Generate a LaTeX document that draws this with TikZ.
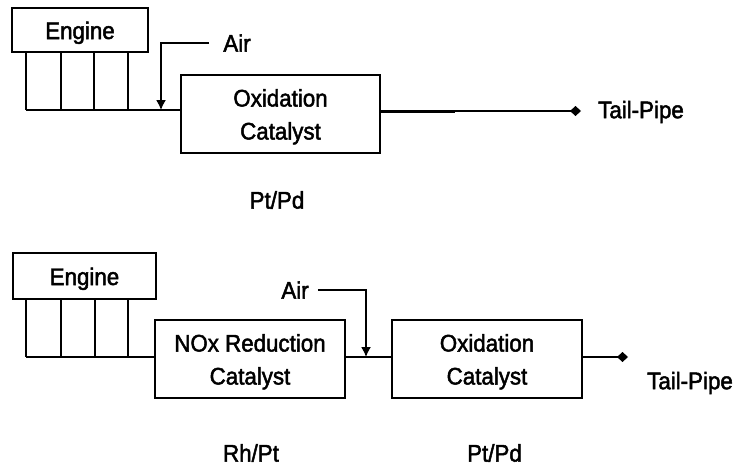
\documentclass[tikz,border=0pt]{standalone}
\usepackage{fontspec}
\setmainfont[FakeStretch=0.93,FakeBold=2]{Liberation Sans}
\usetikzlibrary{arrows.meta}
\newcommand{\toppad}{\rule{0pt}{23pt}}
\tikzset{
  x=1pt,y=-1pt,
  blockbox/.style={draw=black,line width=1.5pt,inner sep=0pt,align=center,font=\fontsize{24}{33}\selectfont,text=black},
  lbl/.style={inner sep=0pt,font=\fontsize{24}{28}\selectfont,text=black},
  pipe/.style={draw=black,line width=1.5pt},
  heavy/.style={draw=black,line width=3pt},
  flow/.style={pipe,-{Latex[length=10pt,width=10pt]}},
  tail/.style={pipe,-{Diamond[length=11pt,width=10pt]}},
}
\begin{document}
\begin{tikzpicture}
\useasboundingbox (0,0) rectangle (735,466);
% top
\node[blockbox,minimum width=136pt,minimum height=44pt] (e1) at (80,30) {\toppad Engine};
\node[blockbox,minimum width=199pt,minimum height=78pt] (o1) at (280.5,114) {\toppad Oxidation\\Catalyst};
\coordinate (j0) at (26,110);
\coordinate (j1) at (61,110);
\coordinate (j2) at (94,110);
\coordinate (j3) at (128,110);
\coordinate (j4) at (161,110);
\coordinate (t0) at (26,52);
\coordinate (t1) at (61,52);
\coordinate (t2) at (94,52);
\coordinate (t3) at (128,52);
\draw[pipe] (t0) -- (j0);
\draw[pipe] (t1) -- (j1);
\draw[pipe] (t2) -- (j2);
\draw[pipe] (t3) -- (j3);
\draw[pipe] (j0) -- (o1.west |- j0);
\node[lbl] (a1) at (237,43) {Air};
\coordinate (b1) at (161,43);
\draw[flow] (a1.west) ++(-14,0) coordinate (a1s) -- (b1) -- (j4);
\coordinate (tp1e) at (581,111);
\coordinate (tp1h) at (455,111);
\draw[tail] (o1.east |- tp1e) -- (tp1e);
\draw[heavy] (o1.east |- tp1e) -- (tp1h);
\node[lbl] (tp1) at (641,112) {Tail-Pipe};
\node[lbl] (m1) at (277,200) {Pt/Pd};
% bottom
\node[blockbox,minimum width=143pt,minimum height=46pt] (e2) at (84.5,276) {\toppad Engine};
\node[blockbox,minimum width=190pt,minimum height=78pt] (n2) at (250,359) {\toppad NOx Reduction\\Catalyst};
\node[blockbox,minimum width=190pt,minimum height=78pt] (o2) at (487,359) {\toppad Oxidation\\Catalyst};
\coordinate (k0) at (26,357);
\coordinate (k1) at (61,357);
\coordinate (k2) at (95,357);
\coordinate (k3) at (128,357);
\coordinate (k4) at (366,357);
\coordinate (u0) at (26,299);
\coordinate (u1) at (61,299);
\coordinate (u2) at (95,299);
\coordinate (u3) at (128,299);
\draw[pipe] (u0) -- (k0);
\draw[pipe] (u1) -- (k1);
\draw[pipe] (u2) -- (k2);
\draw[pipe] (u3) -- (k3);
\draw[pipe] (k0) -- (n2.west |- k0);
\draw[pipe] (n2.east |- k4) -- (o2.west |- k4);
\node[lbl] (a2) at (295,290) {Air};
\coordinate (b2) at (366,290);
\draw[flow] (a2.east) ++(9,0) -- (b2) -- (k4);
\coordinate (tp2e) at (628,357);
\draw[tail] (o2.east |- tp2e) -- (tp2e);
\node[lbl] (tp2) at (690,383) {Tail-Pipe};
\node[lbl] (m2) at (251,453) {Rh/Pt};
\node[lbl] (m3) at (494.5,453) {Pt/Pd};
\end{tikzpicture}
\end{document}
